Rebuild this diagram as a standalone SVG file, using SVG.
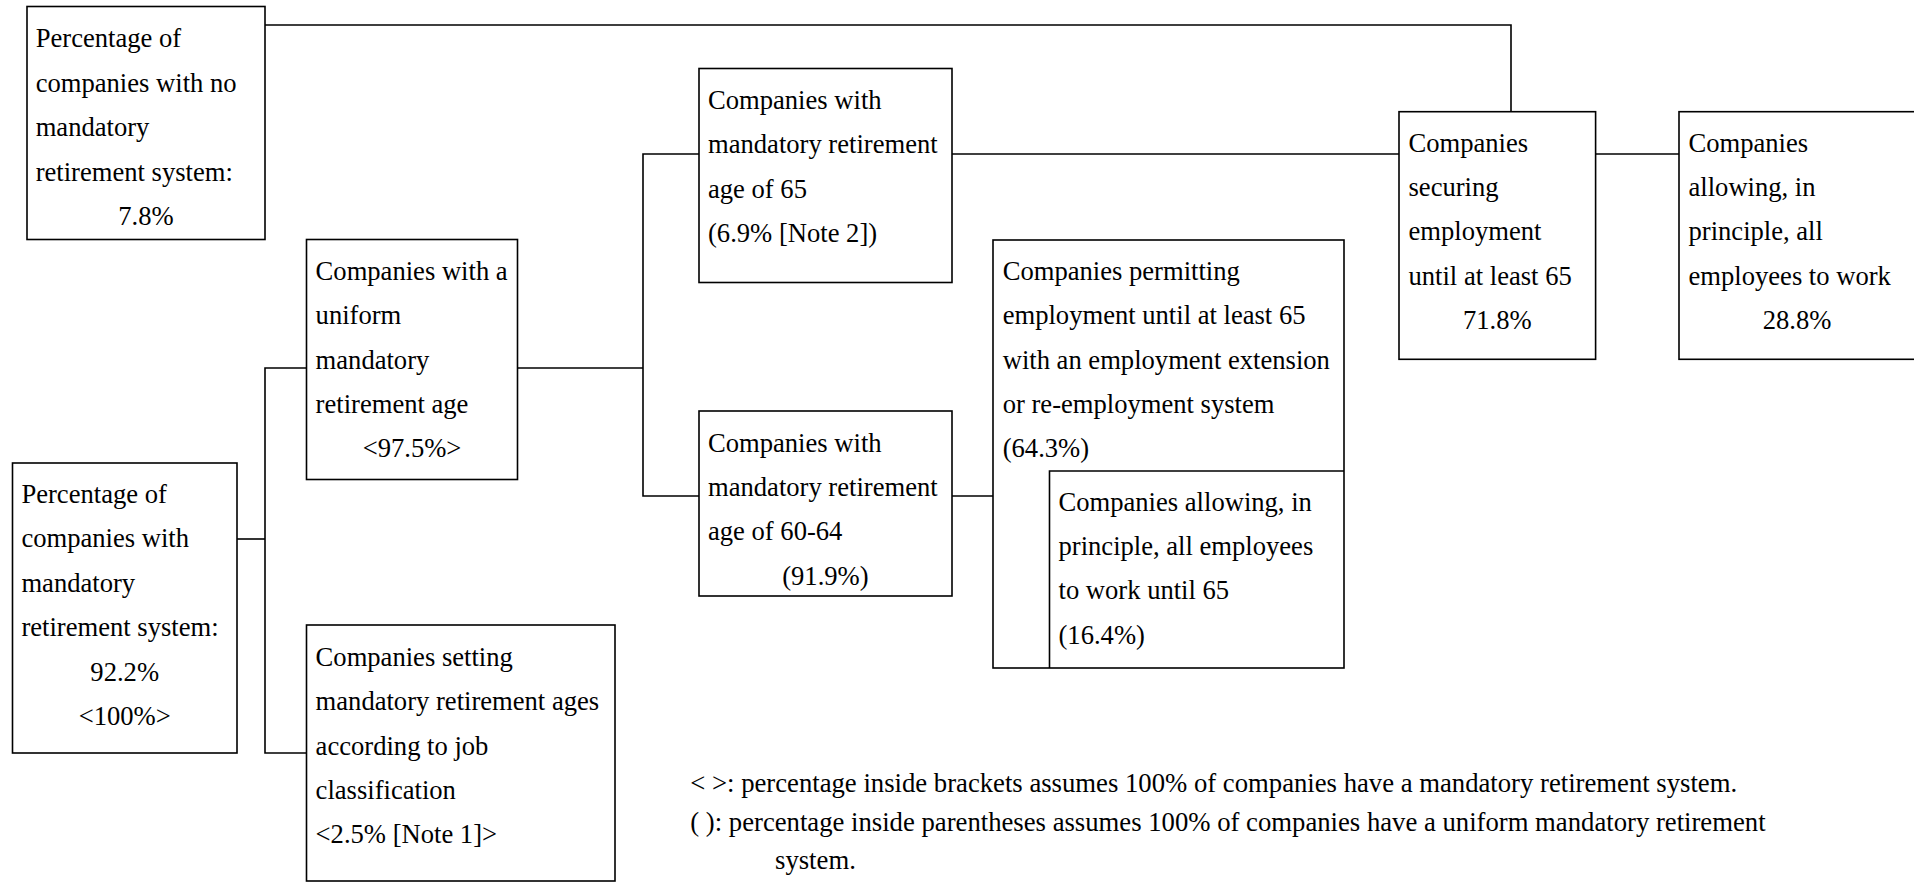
<svg xmlns="http://www.w3.org/2000/svg" width="1914" height="882" viewBox="0 0 1914 882">
<style>
.box{fill:#fff;stroke:#000;stroke-width:1.6}
.ln{fill:none;stroke:#000;stroke-width:1.6}
text{font-family:"Liberation Serif","Times New Roman",serif;font-size:26.6px;fill:#000}
.c{text-anchor:middle}
.note{font-size:26.7px}
</style>
<rect width="1914" height="882" fill="#fff"/>
<g id="connectors">
<path class="ln" d="M265,25 H1511 V111.7"/>
<path class="ln" d="M951.8,154 H1399"/>
<path class="ln" d="M1595.6,154 H1679"/>
<path class="ln" d="M699,154 H643 V496 H699"/>
<path class="ln" d="M517.4,368 H643"/>
<path class="ln" d="M306.7,368 H265 V753 H306.7"/>
<path class="ln" d="M237,539 H265"/>
<path class="ln" d="M951.8,496 H993"/>
</g>
<g id="no-system">
<rect class="box" x="27" y="6.5" width="238" height="233"/>
<text x="35.7" y="47">Percentage of</text>
<text x="35.7" y="91.5">companies with no</text>
<text x="35.7" y="136">mandatory</text>
<text x="35.7" y="180.5">retirement system:</text>
<text class="c" x="146" y="225">7.8%</text>
</g>
<g id="with-system">
<rect class="box" x="12.5" y="463" width="224.5" height="290"/>
<text x="21.4" y="502.7">Percentage of</text>
<text x="21.4" y="547">companies with</text>
<text x="21.4" y="591.5">mandatory</text>
<text x="21.4" y="636">retirement system:</text>
<text class="c" x="124.7" y="680.5">92.2%</text>
<text class="c" x="124.7" y="725">&lt;100%&gt;</text>
</g>
<g id="uniform">
<rect class="box" x="306.5" y="239.5" width="211" height="240"/>
<text x="315.6" y="280">Companies with a</text>
<text x="315.6" y="324.3">uniform</text>
<text x="315.6" y="368.6">mandatory</text>
<text x="315.6" y="412.9">retirement age</text>
<text class="c" x="412" y="457.2">&lt;97.5%&gt;</text>
</g>
<g id="job-classification">
<rect class="box" x="306.5" y="625" width="308.5" height="256"/>
<text x="315.6" y="666">Companies setting</text>
<text x="315.6" y="710.3">mandatory retirement ages</text>
<text x="315.6" y="754.6">according to job</text>
<text x="315.6" y="798.9">classification</text>
<text x="315.6" y="843.2">&lt;2.5% [Note 1]&gt;</text>
</g>
<g id="age65">
<rect class="box" x="699" y="68.5" width="253" height="214"/>
<text x="708" y="109">Companies with</text>
<text x="708" y="153.3">mandatory retirement</text>
<text x="708" y="197.6">age of 65</text>
<text x="708" y="241.9">(6.9% [Note 2])</text>
</g>
<g id="age60-64">
<rect class="box" x="699" y="411" width="253" height="185"/>
<text x="708" y="451.7">Companies with</text>
<text x="708" y="496">mandatory retirement</text>
<text x="708" y="540.3">age of 60-64</text>
<text class="c" x="825.4" y="584.6">(91.9%)</text>
</g>
<g id="permitting">
<rect class="box" x="993" y="240" width="351" height="428"/>
<text x="1002.7" y="280">Companies permitting</text>
<text x="1002.7" y="324.3">employment until at least 65</text>
<text x="1002.7" y="368.6">with an employment extension</text>
<text x="1002.7" y="412.9">or re-employment system</text>
<text x="1002.7" y="457.2">(64.3%)</text>
</g>
<g id="allowing-until-65">
<path class="ln" d="M1049.5,668 V471 H1344"/>
<text x="1058.5" y="510.7">Companies allowing, in</text>
<text x="1058.5" y="555">principle, all employees</text>
<text x="1058.5" y="599.3">to work until 65</text>
<text x="1058.5" y="643.6">(16.4%)</text>
</g>
<g id="securing">
<rect class="box" x="1399" y="111.7" width="196.6" height="247.6"/>
<text x="1408.5" y="151.7">Companies</text>
<text x="1408.5" y="196">securing</text>
<text x="1408.5" y="240.3">employment</text>
<text x="1408.5" y="284.6">until at least 65</text>
<text class="c" x="1497.3" y="328.9">71.8%</text>
</g>
<g id="allowing-all">
<rect class="box" x="1679" y="111.7" width="240" height="247.6"/>
<text x="1688.5" y="151.7">Companies</text>
<text x="1688.5" y="196">allowing, in</text>
<text x="1688.5" y="240.3">principle, all</text>
<text x="1688.5" y="284.6">employees to work</text>
<text class="c" x="1797" y="328.9">28.8%</text>
</g>
<g id="notes">
<text class="note" x="690.3" y="792">&lt; &gt;: percentage inside brackets assumes 100% of companies have a mandatory retirement system.</text>
<text class="note" x="690.3" y="830.5">( ): percentage inside parentheses assumes 100% of companies have a uniform mandatory retirement</text>
<text class="note" x="775" y="868.5">system.</text>
</g>
</svg>
